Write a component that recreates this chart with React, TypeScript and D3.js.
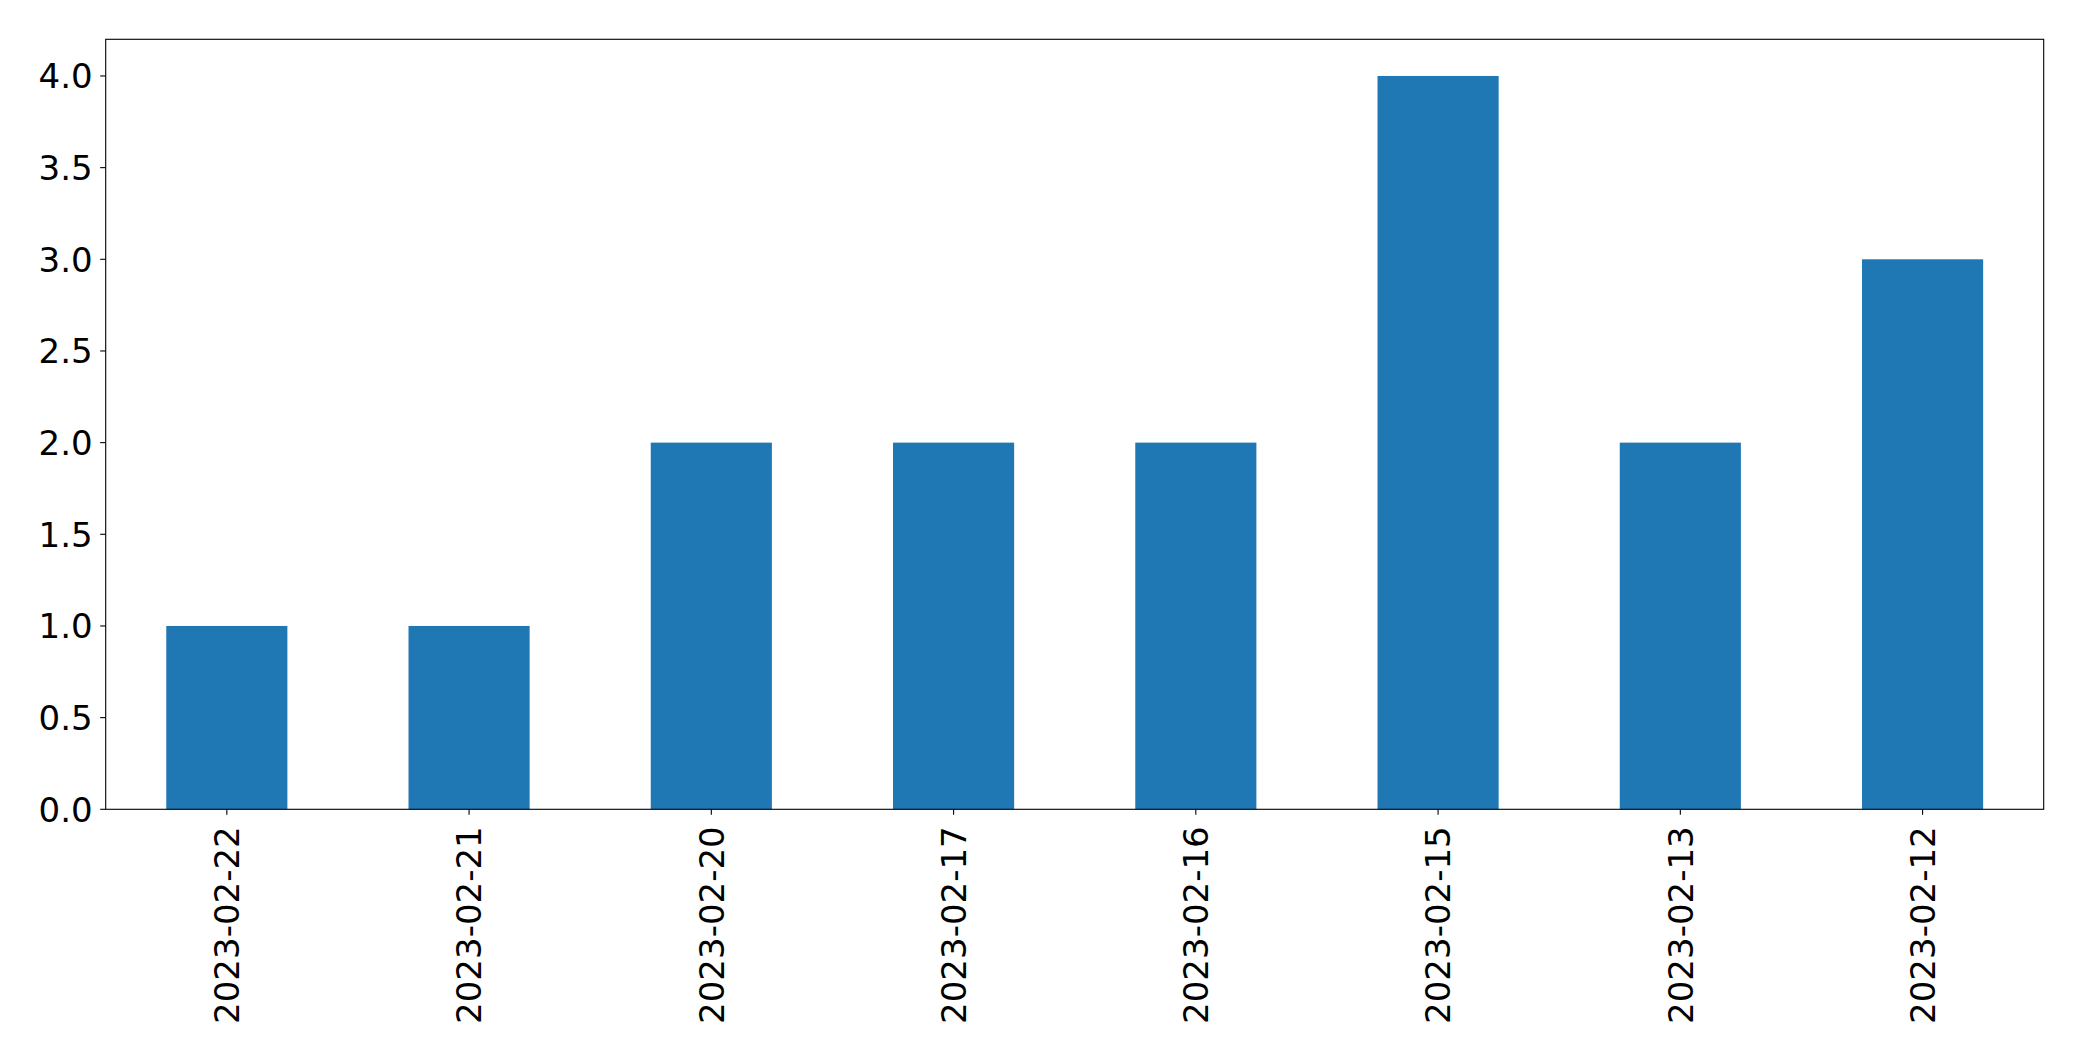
import React from "react";
import * as d3 from "d3";

const categories = ["2023-02-22", "2023-02-21", "2023-02-20", "2023-02-17", "2023-02-16", "2023-02-15", "2023-02-13", "2023-02-12"];
const values = [1, 1, 2, 2, 2, 4, 2, 3];
const yTicks = [0, 0.5, 1.0, 1.5, 2.0, 2.5, 3.0, 3.5, 4.0];

const W = 2082;
const H = 1061;
const left = 105.7;
const right = 2043.7;
const top = 39.3;
const bottom = 809.3;
const font = "'DejaVu Sans', sans-serif";
const fs = 34;

export default function App() {
  const x = d3.scaleLinear().domain([-0.5, categories.length - 0.5]).range([left, right]);
  const y = d3.scaleLinear().domain([0, 4.2]).range([bottom, top]);
  const bw = x(0.25) - x(-0.25);
  return (
    <svg width={W} height={H} style={{ position: "absolute", left: 0, top: 0, background: "#fff" }}>
      <rect x={0} y={0} width={W} height={H} fill="#fff" />
      {values.map((v, i) => (
        <rect key={i} x={x(i) - bw / 2} y={y(v)} width={bw} height={y(0) - y(v)} fill="#1f77b4" />
      ))}
      <rect x={left} y={top} width={right - left} height={bottom - top} fill="none" stroke="#000" strokeWidth={1.1} />
      {yTicks.map((t) => (
        <g key={t}>
          <line x1={left - 5.5} x2={left} y1={y(t)} y2={y(t)} stroke="#000" strokeWidth={1.1} />
          <text x={left - 13} y={y(t)} dy="0.36em" textAnchor="end" fontFamily={font} fontSize={fs} fill="#000">
            {t.toFixed(1)}
          </text>
        </g>
      ))}
      {categories.map((c, i) => (
        <g key={c}>
          <line x1={x(i)} x2={x(i)} y1={bottom} y2={bottom + 5.5} stroke="#000" strokeWidth={1.1} />
          <text
            transform={`translate(${x(i)},${bottom + 17}) rotate(-90)`}
            dy="0.36em"
            textAnchor="end"
            fontFamily={font}
            fontSize={fs}
            fill="#000"
          >
            {c}
          </text>
        </g>
      ))}
    </svg>
  );
}
